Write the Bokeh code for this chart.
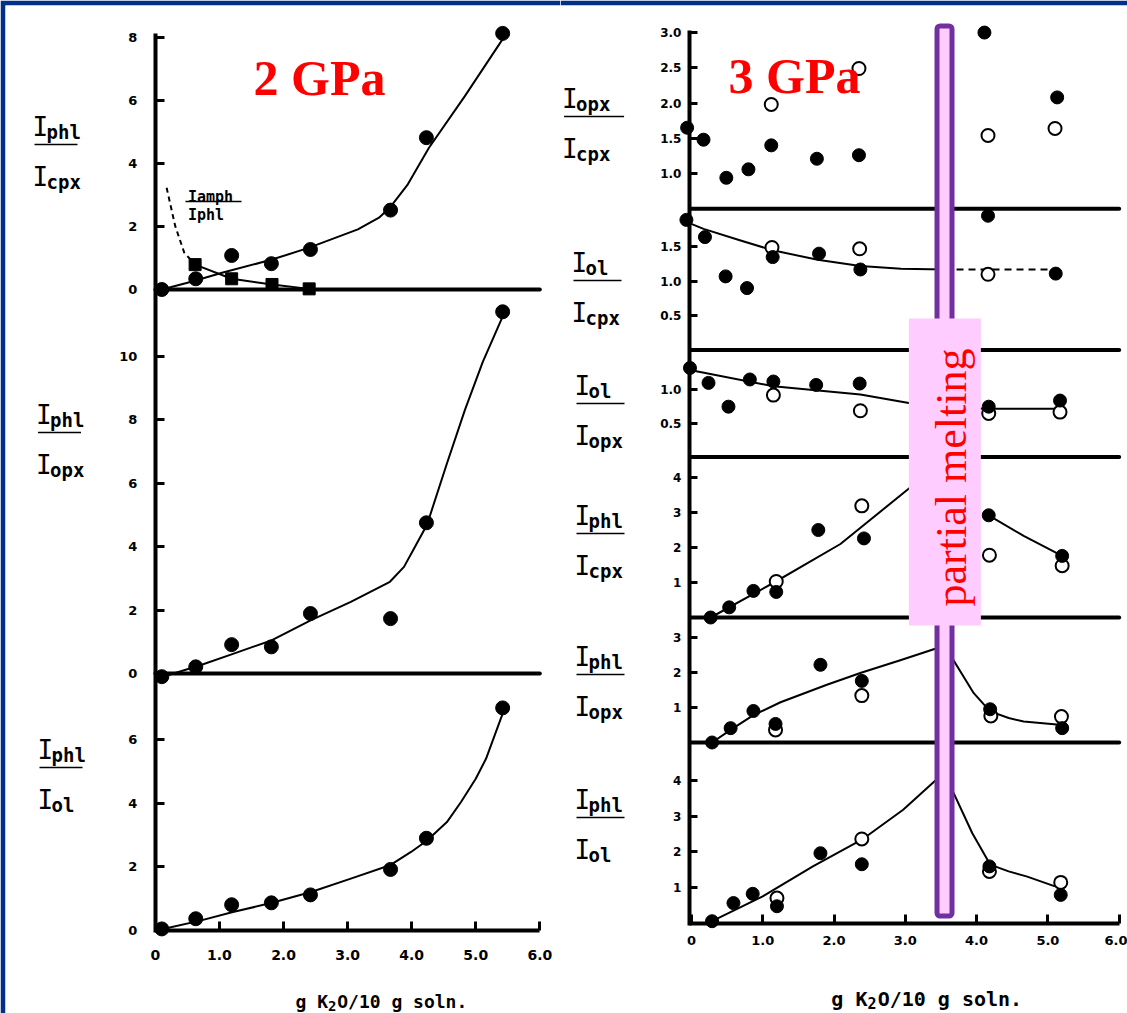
from math import pi

from bokeh.core.properties import value
from bokeh.embed import file_html
from bokeh.layouts import row
from bokeh.models import FixedTicker, LinearAxis, Range1d, VBar
from bokeh.plotting import figure
from bokeh.resources import INLINE

# ---------------------------------------------------------------- data
# x: g K2O / 10 g solution
x_ticks = [0, 1, 2, 3, 4, 5, 6]
x_tick_labels = ["0", "1.0", "2.0", "3.0", "4.0", "5.0", "6.0"]

# ---- 2 GPa
k2o_2gpa = [0.1, 0.63, 1.19, 1.81, 2.42, 3.67, 4.23, 5.42]
phl_cpx_2gpa = [0.0, 0.34, 1.08, 0.82, 1.27, 2.52, 4.82, 8.13]
phl_opx_2gpa = [-0.1, 0.21, 0.91, 0.84, 1.89, 1.73, 4.75, 11.4]
phl_ol_2gpa = [0.05, 0.37, 0.81, 0.87, 1.12, 1.92, 2.9, 7.0]
amph_phl_k2o = [0.62, 1.19, 1.82, 2.4]
amph_phl = [0.79, 0.34, 0.16, 0.02]

# hand-drawn trend curves, 2 GPa
trend_phl_cpx_2_x = [0.1, 0.59, 1.04, 1.82, 2.39, 3.16, 3.49, 3.66, 3.94, 4.27, 4.83, 5.42]
trend_phl_cpx_2_y = [0.0, 0.26, 0.53, 0.95, 1.32, 1.91, 2.28, 2.6, 3.34, 4.5, 6.14, 7.95]
trend_phl_opx_2_x = [0.12, 0.7, 1.2, 1.82, 2.43, 3.05, 3.66, 3.88, 4.05, 4.22, 4.28, 4.55, 4.83, 5.11, 5.44]
trend_phl_opx_2_y = [-0.1, 0.26, 0.61, 1.05, 1.68, 2.26, 2.89, 3.36, 3.99, 4.62, 4.94, 6.62, 8.3, 9.82, 11.34]
trend_phl_ol_2_x = [0.12, 0.7, 1.21, 1.82, 2.43, 3.05, 3.66, 3.99, 4.24, 4.55, 4.77, 5.0, 5.16, 5.44]
trend_phl_ol_2_y = [0.05, 0.31, 0.58, 0.87, 1.21, 1.63, 2.05, 2.47, 2.83, 3.41, 4.04, 4.77, 5.4, 6.93]
trend_amph_dash_x = [0.175, 0.31, 0.45, 0.62]
trend_amph_dash_y = [3.23, 2.01, 1.17, 0.79]

# ---- 3 GPa (filled and open symbols)
opx_cpx_k2o = [-0.06, 0.17, 0.49, 0.8, 1.12, 1.76, 2.35, 4.11, 5.13]
opx_cpx = [1.65, 1.48, 0.94, 1.06, 1.40, 1.21, 1.26, 3.0, 2.08]
opx_cpx_open_k2o = [1.12, 2.35, 4.16, 5.1]
opx_cpx_open = [1.98, 2.49, 1.54, 1.64]

ol_cpx_k2o = [-0.07, 0.19, 0.48, 0.78, 1.14, 1.79, 2.37, 4.16, 5.11]
ol_cpx = [1.89, 1.64, 1.07, 0.90, 1.35, 1.40, 1.17, 1.95, 1.11]
ol_cpx_open_k2o = [1.13, 2.36, 4.16]
ol_cpx_open = [1.49, 1.47, 1.10]

ol_opx_k2o = [-0.02, 0.24, 0.52, 0.82, 1.15, 1.75, 2.36, 4.17, 5.17]
ol_opx = [1.31, 1.09, 0.74, 1.14, 1.11, 1.06, 1.08, 0.74, 0.83]
ol_opx_open_k2o = [1.15, 2.37, 4.17, 5.17]
ol_opx_open = [0.91, 0.68, 0.64, 0.66]

phl_cpx_k2o = [0.27, 0.53, 0.87, 1.19, 1.78, 2.42, 4.17, 5.2]
phl_cpx = [0.0, 0.29, 0.76, 0.73, 2.50, 2.26, 2.92, 1.76]
phl_cpx_open_k2o = [1.19, 2.39, 4.18, 5.2]
phl_cpx_open = [1.03, 3.19, 1.78, 1.48]

phl_opx_k2o = [0.29, 0.55, 0.87, 1.18, 1.81, 2.39, 4.19, 5.2]
phl_opx = [0.0, 0.41, 0.9, 0.53, 2.22, 1.76, 0.95, 0.41]
phl_opx_open_k2o = [1.18, 2.39, 4.2, 5.19]
phl_opx_open = [0.36, 1.34, 0.76, 0.74]

phl_ol_k2o = [0.29, 0.59, 0.86, 1.2, 1.81, 2.39, 4.18, 5.18]
phl_ol = [0.05, 0.56, 0.82, 0.47, 1.96, 1.65, 1.59, 0.79]
phl_ol_open_k2o = [1.2, 2.39, 4.18, 5.18]
phl_ol_open = [0.7, 2.36, 1.45, 1.14]

# hand-drawn trend curves, 3 GPa
trend_ol_cpx_x = [-0.07, 0.17, 0.69, 1.14, 1.77, 2.37, 2.94, 3.55]
trend_ol_cpx_y = [1.86, 1.76, 1.59, 1.45, 1.31, 1.22, 1.18, 1.17]
trend_ol_cpx_dash_x = [3.55, 5.11]
trend_ol_cpx_dash_y = [1.17, 1.17]
trend_ol_opx_x = [-0.02, 1.15, 2.37, 3.07, 3.6, 4.17, 5.17]
trend_ol_opx_y = [1.28, 1.04, 0.92, 0.79, 0.72, 0.71, 0.71]
trend_phl_cpx_a_x = [0.27, 1.16, 2.09, 3.06, 3.5]
trend_phl_cpx_a_y = [0.0, 1.0, 2.1, 3.7, 4.2]
trend_phl_cpx_b_x = [4.17, 4.66, 5.2]
trend_phl_cpx_b_y = [2.92, 2.33, 1.76]
trend_phl_opx_x = [0.29, 0.55, 0.87, 1.25, 1.9, 2.39, 2.93, 3.42, 3.55, 3.7, 3.96, 4.19, 4.45, 4.66, 5.2]
trend_phl_opx_y = [0.0, 0.36, 0.78, 1.15, 1.65, 2.0, 2.35, 2.68, 2.78, 2.27, 1.41, 0.89, 0.7, 0.6, 0.5]
trend_phl_ol_x = [0.29, 1.0, 1.71, 2.39, 2.97, 3.43, 3.55, 3.68, 3.94, 4.19, 4.45, 4.7, 5.1]
trend_phl_ol_y = [0.05, 0.75, 1.6, 2.34, 3.18, 4.02, 4.2, 3.64, 2.52, 1.64, 1.45, 1.31, 1.03]

melt_k2o = 3.55  # onset of partial melting at 3 GPa

# y ticks of every stacked panel
left_ticks = {"L1": [0, 2, 4, 6, 8], "L2": [0, 2, 4, 6, 8, 10], "L3": [0, 2, 4, 6]}
right_ticks = {"R1": [1.0, 1.5, 2.0, 2.5, 3.0], "R2": [0.5, 1.0, 1.5], "R3": [0.5, 1.0],
               "R4": [1, 2, 3, 4], "R5": [1, 2, 3], "R6": [1, 2, 3, 4]}

# ---------------------------------------------------------------- layout
H = 1013
TOP = 5
BLUE = "#003087"
PINK = "#FFCCFF"
PURPLE = "#7030A0"
RED = "#FF0000"
MONO = value("DejaVu Sans Mono")
SERIF = value("Liberation Serif")

# page-pixel placement of each stacked panel: (pixel row of v0, v0, pixels per unit)
left_panels = {"L1": (289.0, 0.0, 31.5), "L2": (673.0, 0.0, 31.73), "L3": (930.0, 0.0, 31.8)}
right_panels = {"R1": (208.3, 0.5, 70.5), "R2": (349.6, 0.0, 68.9), "R3": (456.5, 0.0, 68.0),
                "R4": (617.0, 0.0, 35.0), "R5": (742.0, 0.0, 35.0), "R6": (922.5, 0.0, 35.6)}
LEFT_X0, LEFT_UX = 154.9, 64.07
RIGHT_X0, RIGHT_UX = 690.9, 71.3


def base_fig(width, px_left, px_right, border_left, x0, ux, panels):
    p = figure(width=width, height=H,
               x_range=Range1d(px_left, px_right), y_range=Range1d(H, TOP),
               x_axis_type=None, y_axis_type=None, title=None,
               toolbar_location=None, output_backend="svg",
               min_border_left=border_left, min_border_right=0,
               min_border_top=TOP, min_border_bottom=0,
               border_fill_color=BLUE, background_fill_color="white",
               outline_line_color=None)
    p.extra_x_ranges = {"k2o": Range1d((px_left - x0) / ux, (px_right - x0) / ux)}
    p.extra_y_ranges = {name: Range1d(v0 + (p0 - H) / s, v0 + (p0 - TOP) / s)
                        for name, (p0, v0, s) in panels.items()}
    return p


def tick_pos(p0, v0, s, t):
    pos = round(p0 - s * (t - v0), 2)
    if pos == int(pos):
        pos += 0.01
    return pos


def style_axis(ax, size, standoff, tick_in):
    ax.axis_line_width = 4
    ax.major_tick_line_width = 3
    ax.major_tick_in = tick_in
    ax.major_tick_out = 0
    ax.minor_tick_line_color = None
    ax.major_label_standoff = standoff
    ax.major_label_text_font = "DejaVu Sans"
    ax.major_label_text_font_style = "bold"
    ax.major_label_text_font_size = size
    ax.major_label_text_color = "black"


def stacked_yaxis(p, panels, ticks, fmt, loc, bounds, size, standoff, tick_in):
    pos, labels = [], {}
    for name, tv in ticks.items():
        p0, v0, s = panels[name]
        for t in tv:
            k = tick_pos(p0, v0, s, t)
            pos.append(k)
            labels[k] = fmt(name, t)
    ax = LinearAxis(ticker=FixedTicker(ticks=pos), major_label_overrides=labels,
                    fixed_location=loc, bounds=bounds)
    style_axis(ax, size, standoff, tick_in)
    p.add_layout(ax, "left")


def k2o_axis(p, loc, bounds, size, standoff):
    ax = LinearAxis(x_range_name="k2o", ticker=FixedTicker(ticks=x_ticks),
                    major_label_overrides=dict(zip(x_ticks, x_tick_labels)),
                    fixed_location=loc, bounds=bounds)
    style_axis(ax, size, standoff, 9)
    p.add_layout(ax, "below")


def baseline(p, panel, level):
    p.line([x_ticks[0], x_ticks[-1]], [level, level], line_width=4, color="black",
           line_cap="round", x_range_name="k2o", y_range_name=panel)


def trend(p, panel, xs, ys, dash="solid"):
    p.line(xs, ys, line_width=2, color="black", line_dash=dash, line_join="round",
           x_range_name="k2o", y_range_name=panel)


def dots(p, panel, xs, ys, filled=True, size=13):
    p.scatter(xs, ys, marker="circle", size=size,
              fill_color="black" if filled else "white", line_color="black",
              line_width=1 if filled else 2, x_range_name="k2o", y_range_name=panel)


def fraction(p, x, y_line, num, den, line_len):
    p.text(x=[x - 2, x - 2], y=[y_line - 18, y_line + 32], text=["I", "I"],
           text_font=MONO, text_font_size="26px", text_align="left",
           text_baseline="alphabetic", text_color="black")
    p.text(x=[x + 12, x + 12], y=[y_line - 13, y_line + 37], text=[num, den],
           text_font=MONO, text_font_style="bold", text_font_size="19px",
           text_align="left", text_baseline="alphabetic", text_color="black")
    p.segment(x0=[x], y0=[y_line], x1=[x + line_len], y1=[y_line],
              line_width=1.5, color="black")


def axis_title(p, x, y, size):
    cw = 0.602 * size
    common = dict(text_font=MONO, text_font_style="bold", text_align="left",
                  text_baseline="alphabetic", text_color="black")
    p.text(x=[x], y=[y], text=["g K"], text_font_size=f"{size}px", **common)
    p.text(x=[x + 3 * cw], y=[y + 4], text=["2"], text_font_size=f"{round(size * 0.75)}px", **common)
    p.text(x=[x + 3.85 * cw], y=[y], text=["O/10 g soln."], text_font_size=f"{size}px", **common)


# ================================================================ 2 GPa
left = base_fig(560, 5, 560, 5, LEFT_X0, LEFT_UX, left_panels)

baseline(left, "L1", 0)
baseline(left, "L2", 0)

trend(left, "L1", trend_phl_cpx_2_x, trend_phl_cpx_2_y)
trend(left, "L1", trend_amph_dash_x, trend_amph_dash_y, dash="5 4")
trend(left, "L1", amph_phl_k2o, amph_phl)
left.scatter(amph_phl_k2o, amph_phl, marker="square", size=12, color="black",
             x_range_name="k2o", y_range_name="L1")
dots(left, "L1", k2o_2gpa, phl_cpx_2gpa, size=14)

trend(left, "L2", trend_phl_opx_2_x, trend_phl_opx_2_y)
dots(left, "L2", k2o_2gpa, phl_opx_2gpa, size=14)

trend(left, "L3", trend_phl_ol_2_x, trend_phl_ol_2_y)
dots(left, "L3", k2o_2gpa, phl_ol_2gpa, size=14)

stacked_yaxis(left, left_panels, left_ticks, lambda n, t: f"{t:g}",
              loc=LEFT_X0, bounds=(33, 932), size="13px", standoff=18, tick_in=9)
k2o_axis(left, loc=left_panels["L3"][0], bounds=(x_ticks[0], x_ticks[-1]),
         size="14px", standoff=19)

fraction(left, 34, 144, "phl", "cpx", 43)
fraction(left, 37.5, 432, "phl", "opx", 43)
fraction(left, 39, 767, "phl", "ol", 43)

left.text(x=[187.5, 187.5], y=[196, 214], text=["Iamph", "Iphl"], text_font=MONO,
          text_font_style="bold", text_font_size="15px", text_align="left",
          text_baseline="alphabetic", text_color="black")
left.segment(x0=[185], y0=[201], x1=[241], y1=[201], line_width=1.5, color="black")

left.text(x=[253], y=[77], text=["2 GPa"], text_font=SERIF, text_font_style="bold",
          text_font_size="50px", text_color=RED, text_align="left",
          text_baseline="alphabetic")
axis_title(left, 295, 1001, 18)

# ================================================================ 3 GPa
right = base_fig(567, 560, 1127, 0, RIGHT_X0, RIGHT_UX, right_panels)

for name in ["R1", "R2", "R3", "R4", "R5"]:
    baseline(right, name, right_panels[name][1])

trend(right, "R2", trend_ol_cpx_x, trend_ol_cpx_y)
trend(right, "R2", trend_ol_cpx_dash_x, trend_ol_cpx_dash_y, dash="7 5")
trend(right, "R3", trend_ol_opx_x, trend_ol_opx_y)
trend(right, "R4", trend_phl_cpx_a_x, trend_phl_cpx_a_y)
trend(right, "R4", trend_phl_cpx_b_x, trend_phl_cpx_b_y)
trend(right, "R5", trend_phl_opx_x, trend_phl_opx_y)
trend(right, "R6", trend_phl_ol_x, trend_phl_ol_y)

series_3gpa = [
    ("R1", opx_cpx_k2o, opx_cpx, opx_cpx_open_k2o, opx_cpx_open),
    ("R2", ol_cpx_k2o, ol_cpx, ol_cpx_open_k2o, ol_cpx_open),
    ("R3", ol_opx_k2o, ol_opx, ol_opx_open_k2o, ol_opx_open),
    ("R4", phl_cpx_k2o, phl_cpx, phl_cpx_open_k2o, phl_cpx_open),
    ("R5", phl_opx_k2o, phl_opx, phl_opx_open_k2o, phl_opx_open),
    ("R6", phl_ol_k2o, phl_ol, phl_ol_open_k2o, phl_ol_open),
]
for name, fx, fy, ox, oy in series_3gpa:
    dots(right, name, ox, oy, filled=False)
    dots(right, name, fx, fy, filled=True)

axis_x = RIGHT_X0 - 2.0
stacked_yaxis(right, right_panels, right_ticks,
              lambda n, t: f"{t:.1f}" if n in ("R1", "R2", "R3") else f"{t:g}",
              loc=axis_x, bounds=(30, right_panels["R6"][0] + 2), size="12px",
              standoff=8, tick_in=8)
k2o_axis(right, loc=right_panels["R6"][0], bounds=((axis_x - RIGHT_X0) / RIGHT_UX, x_ticks[-1]),
         size="13px", standoff=13)

fraction(right, 563.6, 116, "opx", "cpx", 60)
fraction(right, 573, 280, "ol", "cpx", 48)
fraction(right, 576, 403, "ol", "opx", 48)
fraction(right, 576, 533, "phl", "cpx", 48)
fraction(right, 576, 674, "phl", "opx", 48)
fraction(right, 576, 817, "phl", "ol", 48)

right.text(x=[728], y=[75], text=["3 GPa"], text_font=SERIF, text_font_style="bold",
           text_font_size="50px", text_color=RED, text_align="left",
           text_baseline="alphabetic")

# melting marker: pink bar with purple rim, and the labelled box across it
rounded = {"border_radius": 3} if "border_radius" in VBar.properties() else {}
right.vbar(x=[melt_k2o], width=15 / RIGHT_UX, top=[25.5], bottom=[915.5],
           fill_color=PINK, line_color=PURPLE, line_width=5, x_range_name="k2o", **rounded)
right.quad(left=[melt_k2o - 0.5], right=[melt_k2o + 0.51], top=[318], bottom=[625],
           fill_color=PINK, line_color=None, x_range_name="k2o")
right.text(x=[951], y=[477], text=["partial melting"], angle=pi / 2, text_font=SERIF,
           text_font_size="44px", text_color=RED, text_align="center",
           text_baseline="middle")

axis_title(right, 830.8, 998, 20)

page = row(left, right, spacing=0)
open("out.html", "w").write(file_html(page, INLINE))
